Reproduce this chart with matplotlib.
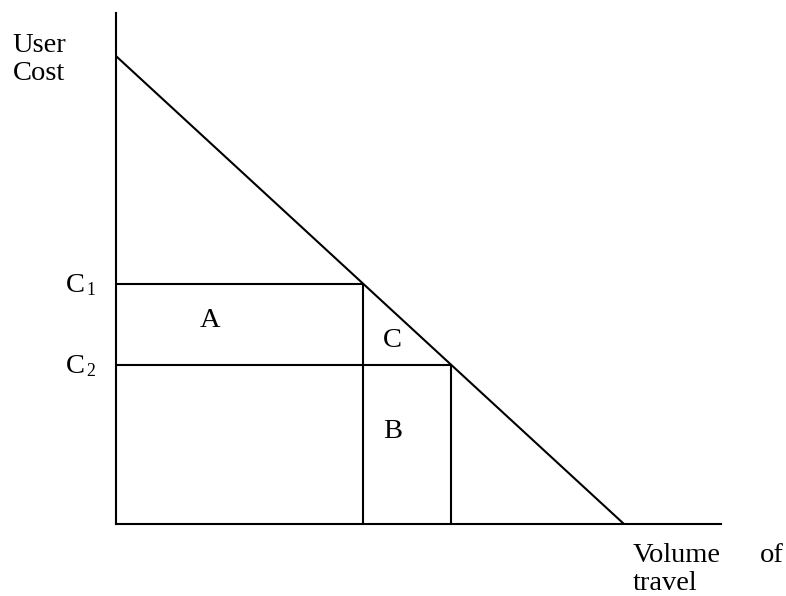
import matplotlib
matplotlib.use("Agg")
import matplotlib.pyplot as plt

# Data (abstract units)
demand_price_intercept = 10.0
demand_volume_intercept = 10.0
price_levels = [5.13, 3.40]          # C1, C2
price_labels = ["1", "2"]
volumes = [4.87, 6.60]               # volumes at C1, C2
area_labels = ["A", "C", "B"]

plt.rcParams['font.family'] = ['Liberation Serif', 'DejaVu Serif']
FS = 20.5
LW = 1.5

fig = plt.figure(figsize=(7.86, 5.96), dpi=100)
ax = fig.add_axes([116/786, (596-524)/596, 605/786, 511/596])
ax.set_xlim(0, 11.91)
ax.set_ylim(0, 10.92)
for s in ['top', 'right']:
    ax.spines[s].set_visible(False)
for s in ['left', 'bottom']:
    ax.spines[s].set_linewidth(LW)
    ax.spines[s].set_color('black')
ax.set_xticks([])
ax.set_yticks([])

# demand line
ax.plot([0, demand_volume_intercept], [demand_price_intercept, 0], color='black', lw=LW,
        solid_capstyle='butt')
# price lines and volume verticals
for p, q in zip(price_levels, volumes):
    ax.plot([0, q], [p, p], color='black', lw=LW, solid_capstyle='butt')
    ax.plot([q, q], [0, p], color='black', lw=LW, solid_capstyle='butt')

# price labels
for p, lab in zip(price_levels, price_labels):
    ax.text(-0.99, p - 0.17, "C", fontsize=FS, ha='left', va='baseline', clip_on=False)
    ax.text(-0.58, p - 0.23, lab, fontsize=FS * 0.62, ha='left', va='baseline', clip_on=False)

# area labels
ax.text(1.85, 4.34, area_labels[0], fontsize=FS, ha='center', va='center')
ax.text(5.45, 3.93, area_labels[1], fontsize=FS, ha='center', va='center')
ax.text(5.45, 1.97, area_labels[2], fontsize=FS, ha='center', va='center')

# axis labels
ax.text(-2.03, 10.09, "User", fontsize=FS, ha='left', va='baseline', clip_on=False)
ax.text(-2.03, 9.49, "Cost", fontsize=FS, ha='left', va='baseline', clip_on=False)
ax.text(10.18, -0.81, "Volume", fontsize=FS, ha='left', va='baseline', clip_on=False)
ax.text(12.68, -0.81, "of", fontsize=FS, ha='left', va='baseline', clip_on=False)
ax.text(10.18, -1.40, "travel", fontsize=FS, ha='left', va='baseline', clip_on=False)

fig.savefig("out.png", dpi=100)
